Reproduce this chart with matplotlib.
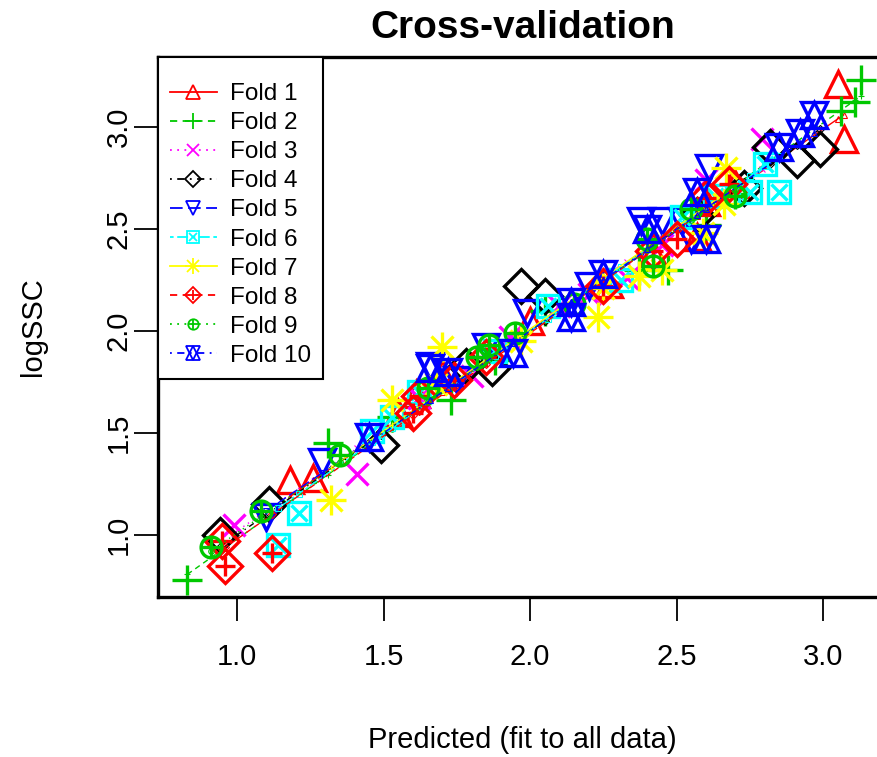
import matplotlib
matplotlib.use("Agg")
import matplotlib.pyplot as plt
from matplotlib.lines import Line2D
from matplotlib.legend_handler import HandlerTuple

plt.rcParams['font.family'] = ['Liberation Sans', 'DejaVu Sans']

# observed vs predicted (fit to all data), one pair of lists per fold
fold1_x = [1.18, 1.26, 1.55, 1.61, 1.70, 2.00, 2.27, 2.42, 2.57, 2.60, 2.70, 3.05, 3.07]
fold1_y = [1.27, 1.28, 1.60, 1.69, 1.79, 2.05, 2.23, 2.38, 2.46, 2.63, 2.72, 3.21, 2.94]
fold2_x = [0.83, 1.31, 1.53, 1.73, 1.88, 2.05, 2.37, 2.47, 2.60, 2.70, 3.06, 3.11, 3.13]
fold2_y = [0.78, 1.45, 1.58, 1.66, 1.86, 2.10, 2.30, 2.30, 2.52, 2.67, 3.08, 3.12, 3.23]
fold3_x = [0.99, 1.41, 1.62, 1.80, 1.93, 2.10, 2.20, 2.33, 2.45, 2.60, 2.79]
fold3_y = [1.05, 1.30, 1.67, 1.78, 1.97, 2.12, 2.18, 2.26, 2.42, 2.74, 2.94]
fold4_x = [0.94, 1.11, 1.49, 1.78, 1.87, 1.97, 2.05, 2.57, 2.73, 2.82, 2.91, 2.99]
fold4_y = [1.00, 1.15, 1.44, 1.83, 1.82, 2.22, 2.17, 2.57, 2.70, 2.90, 2.84, 2.89]
fold5_x = [1.10, 1.29, 1.66, 1.75, 1.85, 1.99, 2.20, 2.38, 2.45, 2.52, 2.55, 2.61]
fold5_y = [1.09, 1.36, 1.83, 1.76, 1.92, 2.09, 2.22, 2.54, 2.54, 2.54, 2.45, 2.80]
fold6_x = [1.14, 1.21, 1.46, 1.53, 1.62, 1.88, 2.06, 2.31, 2.52, 2.63, 2.75, 2.80, 2.85]
fold6_y = [0.95, 1.11, 1.51, 1.58, 1.70, 1.90, 2.12, 2.25, 2.56, 2.66, 2.68, 2.82, 2.68]
fold7_x = [1.32, 1.53, 1.68, 1.70, 1.97, 2.23, 2.25, 2.37, 2.45, 2.59, 2.66, 2.67]
fold7_y = [1.17, 1.66, 1.74, 1.92, 1.95, 2.07, 2.21, 2.27, 2.30, 2.48, 2.62, 2.80]
fold8_x = [0.95, 0.96, 1.12, 1.60, 1.62, 1.74, 1.85, 2.25, 2.42, 2.50, 2.60, 2.68]
fold8_y = [0.97, 0.85, 0.91, 1.60, 1.68, 1.76, 1.87, 2.22, 2.39, 2.45, 2.65, 2.72]
fold9_x = [0.91, 1.08, 1.35, 1.65, 1.82, 1.86, 1.95, 2.15, 2.40, 2.42, 2.55, 2.70]
fold9_y = [0.94, 1.12, 1.39, 1.72, 1.87, 1.93, 1.99, 2.13, 2.45, 2.32, 2.60, 2.66]
fold10_x = [1.45, 1.66, 1.72, 1.94, 2.14, 2.14, 2.25, 2.40, 2.57, 2.60, 2.85, 2.92, 2.97]
fold10_y = [1.48, 1.82, 1.80, 1.89, 2.07, 2.14, 2.28, 2.50, 2.68, 2.45, 2.90, 2.97, 3.06]

# cv fit line of each fold: intercept, slope
fold_a = [0.02, -0.04, 0.03, 0.00, 0.04, -0.02, 0.01, -0.03, 0.02, 0.00]
fold_b = [0.99, 1.02, 0.99, 1.00, 0.98, 1.01, 1.00, 1.01, 0.99, 1.00]

fold_names = ["Fold 1", "Fold 2", "Fold 3", "Fold 4", "Fold 5",
              "Fold 6", "Fold 7", "Fold 8", "Fold 9", "Fold 10"]

xs_all = [fold1_x, fold2_x, fold3_x, fold4_x, fold5_x,
          fold6_x, fold7_x, fold8_x, fold9_x, fold10_x]
ys_all = [fold1_y, fold2_y, fold3_y, fold4_y, fold5_y,
          fold6_y, fold7_y, fold8_y, fold9_y, fold10_y]

green = '#00C800'
colors = ['#FF0000', green, '#FF00FF', 'black', '#0000FF',
          '#00FFFF', '#FFFF00', '#FF0000', green, '#0000FF']
linestyles = ['-', (0, (4, 3)), (0, (1, 3)), (0, (1, 3, 4, 3)), (0, (7, 3)),
              (0, (2, 2, 6, 2)), '-', (0, (4, 3)), (0, (1, 3)), (0, (1, 3, 4, 3))]
# R pch 2..11 built from matplotlib markers (marker, size)
markers = [[('^', 19)], [('+', 22)], [('x', 16)], [('D', 17)], [('v', 19)],
           [('s', 16), ('x', 11)], [('+', 22), ('x', 16)], [('D', 17), ('+', 15)],
           [('o', 15), ('+', 15)], [('^', 19), ('v', 19)]]

fig = plt.figure(figsize=(8.78, 7.57), dpi=100)
ax = fig.add_axes([158 / 878, 160 / 757, 729 / 878, 540 / 757])

handles = []
for i in range(10):
    xs = sorted(xs_all[i])
    fit = [fold_a[i] + fold_b[i] * v for v in xs]
    for m, s in markers[i]:
        ax.plot(xs_all[i], ys_all[i], ls='none', marker=m, ms=s,
                mfc='none', mec=colors[i], mew=2.4)
    first = markers[i][0][0]
    line, = ax.plot(xs, fit, color=colors[i], ls=linestyles[i], lw=1.0,
                    marker=first, ms=4, mfc='none', mew=0.8)
    parts = []
    for j, (m, s) in enumerate(markers[i]):
        parts.append(Line2D([], [], color=colors[i], ls=linestyles[i] if j == 0 else 'none',
                            lw=1.3, marker=m, ms=s * 0.5, mfc='none', mew=1.3))
    handles.append(tuple(parts))

ax.set_xlim(0.73, 3.218)
ax.set_ylim(0.696, 3.343)
ax.set_xticks([1.0, 1.5, 2.0, 2.5, 3.0])
ax.set_yticks([1.0, 1.5, 2.0, 2.5, 3.0])
ax.tick_params(axis='both', length=17, width=1.3, labelsize=21)
ax.tick_params(axis='x', pad=16)
ax.tick_params(axis='y', pad=1)
for lab in ax.get_yticklabels():
    lab.set_rotation(90)
    lab.set_va('center')
for sp in ax.spines.values():
    sp.set_linewidth(2.4)

ax.set_xlabel("Predicted (fit to all data)", fontsize=21, labelpad=40)
ax.set_ylabel("logSSC", fontsize=21, labelpad=42)
ax.set_title("Cross-validation", fontsize=28, fontweight='bold', pad=14)

leg = ax.legend(handles, fold_names, loc='upper left', fontsize=17.5,
                handler_map={tuple: HandlerTuple(ndivide=1, pad=0)},
                handlelength=1.92, handletextpad=0.55, labelspacing=0.29,
                borderaxespad=0, borderpad=0.5, fancybox=False,
                framealpha=1, edgecolor='black',
                title=" ", title_fontsize=6)
leg.get_frame().set_linewidth(1.5)

plt.savefig("out.png", dpi=100)
plt.close()
